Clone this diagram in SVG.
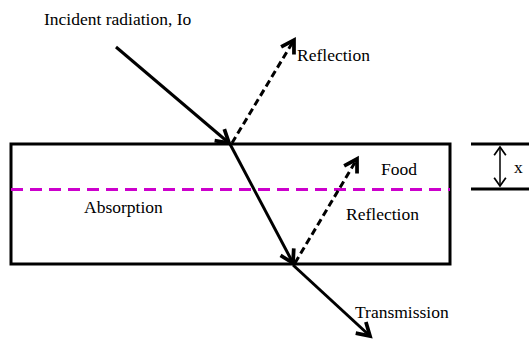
<svg xmlns="http://www.w3.org/2000/svg" width="529" height="341" viewBox="0 0 529 341">
<style>
.t{font-family:"Liberation Serif","Times New Roman",serif;font-size:17.5px;fill:#000}
.ray{stroke:#000;stroke-width:3;fill:none}
.dash{stroke:#000;stroke-width:3;fill:none;stroke-dasharray:7,4}
.thin{stroke:#000;stroke-width:1.5;fill:none}
</style>
<defs>
<marker id="ah" markerUnits="userSpaceOnUse" markerWidth="20" markerHeight="20" refX="12" refY="8" orient="auto" viewBox="0 0 16 16">
<path d="M2,2 L12,8 L2,14" fill="none" stroke="#000" stroke-width="3" stroke-linejoin="miter"/>
</marker>
<marker id="ahs" markerUnits="userSpaceOnUse" markerWidth="14" markerHeight="14" refX="8" refY="6" orient="auto-start-reverse" viewBox="0 0 12 12">
<path d="M1,1 L8,6 L1,11" fill="none" stroke="#000" stroke-width="1.5"/>
</marker>
</defs>
<g id="food">
<rect x="11" y="144" width="439" height="120" fill="none" stroke="#000" stroke-width="3"/>
<line x1="11" y1="189.5" x2="450" y2="189.5" stroke="#CC00CC" stroke-width="3" stroke-dasharray="12,7"/>
<text class="t" x="381" y="175">Food</text>
<text class="t" x="84" y="213">Absorption</text>
<text class="t" x="346" y="220">Reflection</text>
</g>
<g id="dimension">
<line x1="471" y1="144" x2="529" y2="144" stroke="#000" stroke-width="3"/>
<line x1="471" y1="189" x2="529" y2="189" stroke="#000" stroke-width="3"/>
<line x1="500" y1="147" x2="500" y2="186" class="thin" marker-start="url(#ahs)" marker-end="url(#ahs)"/>
<text class="t" x="514" y="173">x</text>
</g>
<g id="labels">
<text class="t" x="44" y="25">Incident radiation, Io</text>
<text class="t" x="297" y="61">Reflection</text>
<text class="t" x="355" y="318">Transmission</text>
</g>
<g id="connectors">
<line class="ray" x1="116" y1="47" x2="229" y2="143" marker-end="url(#ah)"/>
<line class="dash" x1="232" y1="143" x2="294" y2="40" marker-end="url(#ah)"/>
<line class="ray" x1="230" y1="144" x2="293" y2="263" marker-end="url(#ah)"/>
<line class="dash" x1="295" y1="263" x2="357" y2="159" marker-end="url(#ah)"/>
<line class="ray" x1="293" y1="265" x2="370" y2="336" marker-end="url(#ah)"/>
</g>
</svg>
